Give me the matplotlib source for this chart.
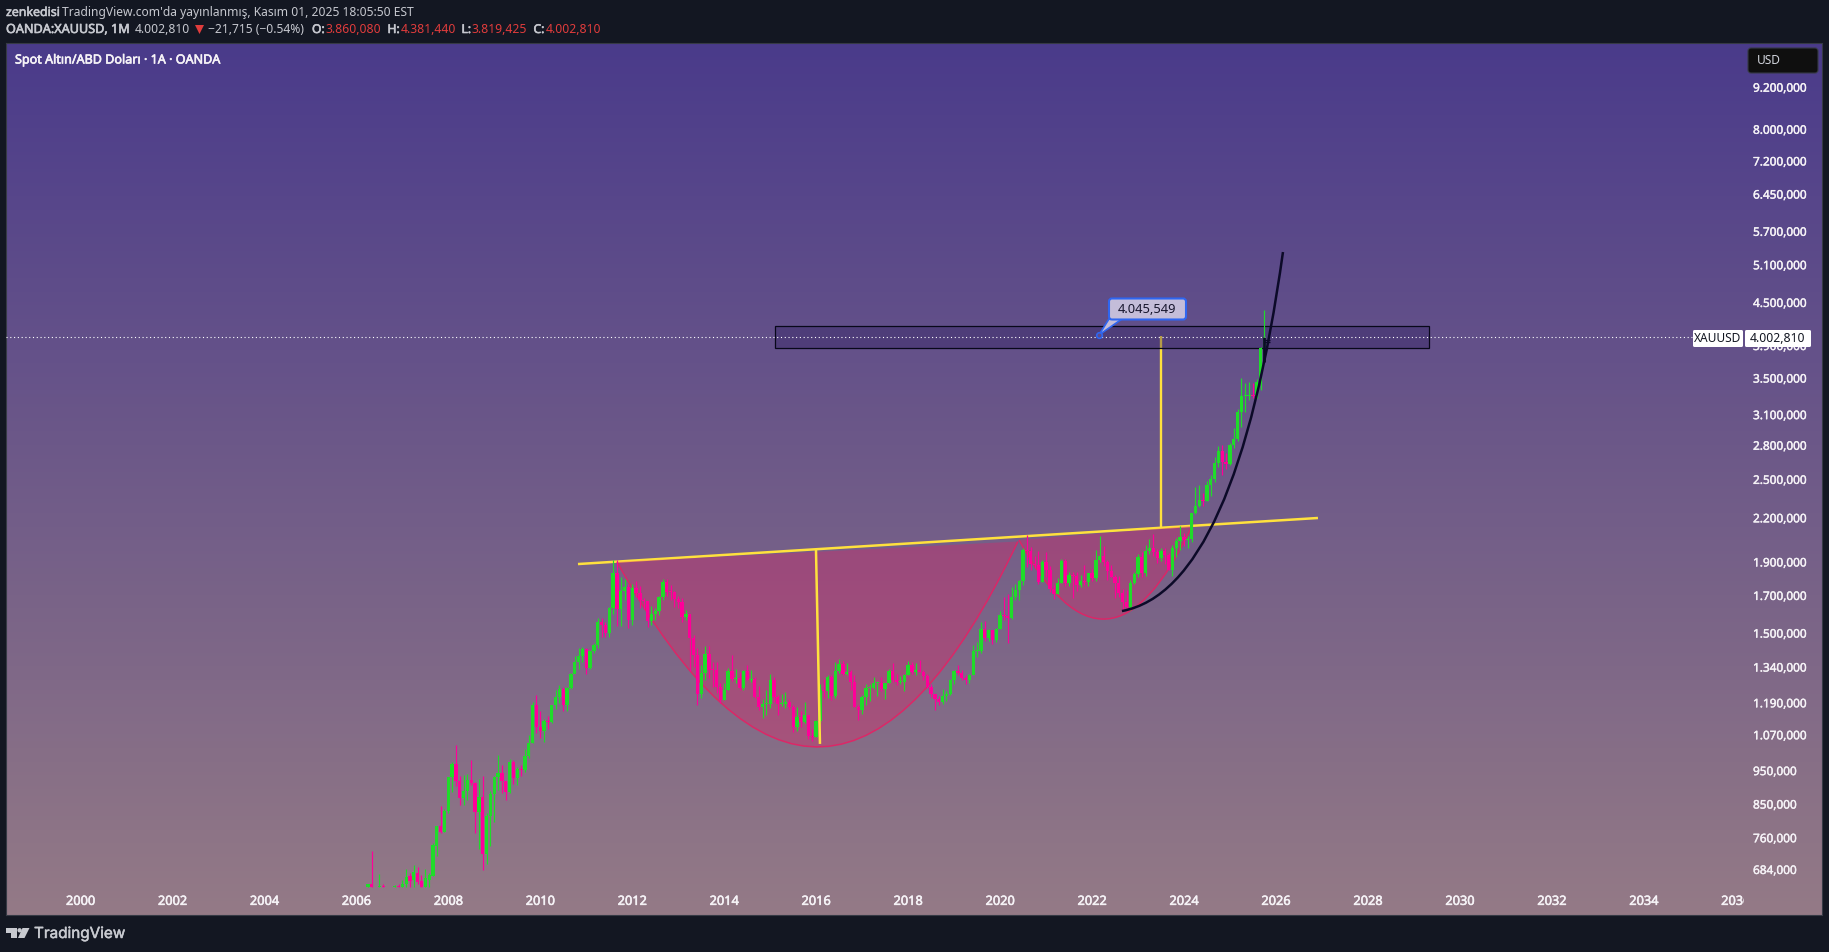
import numpy as np
import pandas as pd
import matplotlib
matplotlib.use('Agg')
import matplotlib.pyplot as plt
import matplotlib.patheffects as pe
from matplotlib.colors import LinearSegmentedColormap
from matplotlib.patches import FancyBboxPatch, PathPatch, Polygon, Rectangle, Circle
from matplotlib.path import Path
from matplotlib.transforms import IdentityTransform

W, H = 1829, 952
plt.rcParams['font.family'] = ['Noto Sans', 'DejaVu Sans']

# monthly candles from Apr 2006, anything under the visible floor sits at 644
opens = [644, 650, 644, 644, 644.5, 644, 644, 644, 646,
         644, 650, 669, 660, 676, 657, 644, 660, 669, 739, 790, 774,
         828, 927, 971, 917, 866, 886, 920, 910, 827, 868, 719, 816,
         877, 927, 942, 916, 883, 977, 926, 955, 950, 996, 1040, 1178,
         1097, 1081, 1118, 1115, 1179, 1212, 1245, 1181, 1248, 1307, 1359, 1386,
         1421, 1334, 1409, 1439, 1556, 1536, 1500, 1628, 1826, 1621, 1722, 1746,
         1565, 1737, 1711, 1669, 1664, 1560, 1598, 1610, 1691, 1776, 1719, 1714,
         1675, 1663, 1578, 1595, 1472, 1394, 1224, 1312, 1396, 1327, 1323, 1250,
         1201, 1240, 1321, 1284, 1291, 1246, 1322, 1282, 1287, 1210, 1171, 1182,
         1184, 1283, 1213, 1183, 1184, 1190, 1172, 1095, 1134, 1115, 1142, 1065,
         1061, 1118, 1238, 1234, 1293, 1215, 1322, 1351, 1309, 1315, 1272, 1173,
         1159, 1211, 1249, 1249, 1268, 1269, 1242, 1269, 1321, 1280, 1271, 1275,
         1303, 1345, 1318, 1325, 1315, 1298, 1253, 1224, 1202, 1192, 1215, 1222,
         1282, 1321, 1313, 1292, 1283, 1305, 1409, 1413, 1520, 1472, 1513, 1464,
         1517, 1589, 1585, 1577, 1686, 1730, 1780, 1975, 1968, 1886, 1879, 1777,
         1898, 1847, 1734, 1708, 1769, 1906, 1770, 1814, 1813, 1757, 1783, 1774,
         1829, 1797, 1909, 1937, 1897, 1838, 1807, 1766, 1711, 1661, 1633, 1769,
         1824, 1928, 1827, 1969, 1990, 1962, 1919, 1965, 1940, 1849, 1984, 2036,
         2063, 2039, 2044, 2230, 2286, 2327, 2326, 2447, 2503, 2635, 2744, 2643,
         2624, 2798, 2857, 3122, 3289, 3289, 3303, 3290, 3447, 3860]
highs = [650, 726, 644, 673, 650, 644, 644, 648, 650,
         660, 684, 675, 692, 688, 670, 684, 675, 745, 790, 842, 835,
         928, 975, 1031, 933, 936, 938, 982, 913, 921, 931, 825, 887,
         932, 1000, 965, 915, 985, 984, 960, 966, 1018, 1066, 1191, 1219,
         1155, 1125, 1137, 1181, 1240, 1260, 1250, 1253, 1312, 1388, 1424, 1431,
         1423, 1412, 1447, 1575, 1577, 1552, 1632, 1908, 1908, 1803, 1790, 1761,
         1764, 1780, 1750, 1681, 1668, 1640, 1628, 1694, 1790, 1795, 1755, 1725,
         1695, 1682, 1616, 1598, 1488, 1424, 1348, 1433, 1435, 1361, 1361, 1268,
         1268, 1332, 1392, 1331, 1315, 1326, 1345, 1324, 1293, 1255, 1205, 1238,
         1307, 1294, 1220, 1224, 1232, 1205, 1179, 1170, 1157, 1191, 1142, 1088,
         1123, 1263, 1287, 1303, 1303, 1362, 1375, 1367, 1357, 1326, 1305, 1181,
         1219, 1264, 1263, 1295, 1270, 1296, 1270, 1331, 1358, 1306, 1299, 1306,
         1366, 1362, 1356, 1369, 1326, 1309, 1266, 1224, 1214, 1243, 1237, 1284,
         1326, 1347, 1324, 1303, 1306, 1439, 1452, 1555, 1557, 1517, 1515, 1524,
         1611, 1689, 1704, 1748, 1765, 1789, 1984, 2075, 1992, 1933, 1966, 1907,
         1959, 1872, 1755, 1798, 1913, 1917, 1834, 1832, 1834, 1814, 1877, 1831,
         1853, 1974, 2070, 1998, 1910, 1879, 1814, 1808, 1735, 1730, 1787, 1833,
         1949, 1960, 2010, 2049, 2079, 1983, 1987, 1987, 1953, 2009, 2052, 2135,
         2088, 2065, 2234, 2431, 2450, 2387, 2483, 2531, 2685, 2790, 2801, 2726,
         2817, 2956, 3149, 3500, 3435, 3451, 3439, 3489, 3872, 4381]
lows = [644, 644, 644, 644, 644, 644, 644, 644, 644,
        644, 644, 644, 644, 650, 644, 644, 644, 668, 714, 770, 774,
        825, 883, 901, 846, 845, 860, 903, 771, 732, 681, 696, 739,
        799, 890, 880, 860, 880, 908, 904, 931, 943, 990, 1040, 1075,
        1058, 1044, 1088, 1111, 1165, 1186, 1157, 1157, 1243, 1315, 1328, 1360,
        1308, 1329, 1400, 1425, 1479, 1478, 1478, 1594, 1534, 1532, 1670, 1523,
        1536, 1691, 1627, 1620, 1527, 1540, 1564, 1590, 1670, 1692, 1670, 1635,
        1626, 1555, 1562, 1321, 1338, 1180, 1207, 1283, 1292, 1251, 1227, 1187,
        1200, 1238, 1277, 1268, 1240, 1240, 1280, 1275, 1208, 1161, 1131, 1142,
        1167, 1191, 1142, 1175, 1169, 1162, 1077, 1080, 1097, 1112, 1052, 1046,
        1062, 1111, 1208, 1208, 1199, 1207, 1311, 1302, 1304, 1241, 1171, 1122,
        1146, 1180, 1195, 1243, 1214, 1237, 1205, 1267, 1271, 1260, 1265, 1236,
        1302, 1307, 1303, 1315, 1281, 1246, 1211, 1160, 1180, 1182, 1196, 1221,
        1266, 1302, 1281, 1266, 1268, 1306, 1382, 1400, 1459, 1459, 1445, 1454,
        1517, 1564, 1451, 1568, 1670, 1670, 1757, 1863, 1849, 1860, 1764, 1776,
        1802, 1717, 1677, 1706, 1766, 1751, 1750, 1684, 1721, 1746, 1759, 1753,
        1780, 1781, 1895, 1872, 1787, 1805, 1681, 1688, 1615, 1617, 1616, 1765,
        1804, 1804, 1810, 1950, 1932, 1893, 1903, 1884, 1848, 1810, 1931, 1973,
        2002, 1984, 2029, 2228, 2277, 2286, 2319, 2364, 2471, 2603, 2536, 2583,
        2614, 2772, 2833, 2970, 3120, 3247, 3268, 3268, 3360, 3819]
closes = [650, 644, 644, 644, 644, 644, 644, 646, 645,
          651, 665, 657, 677, 656, 644, 663, 671, 741, 790, 774, 828,
          927, 971, 917, 866, 886, 920, 910, 827, 868, 719, 816, 877,
          927, 942, 916, 883, 975, 926, 954, 950, 996, 1040, 1178, 1097,
          1081, 1118, 1115, 1179, 1212, 1245, 1181, 1248, 1307, 1359, 1386, 1421,
          1334, 1409, 1439, 1556, 1536, 1500, 1628, 1826, 1621, 1722, 1746, 1565,
          1737, 1711, 1669, 1664, 1560, 1598, 1610, 1691, 1776, 1719, 1714, 1675,
          1663, 1578, 1595, 1472, 1394, 1224, 1312, 1396, 1327, 1323, 1250, 1201,
          1240, 1321, 1284, 1291, 1246, 1322, 1282, 1287, 1210, 1171, 1182, 1184,
          1283, 1213, 1183, 1184, 1190, 1172, 1095, 1134, 1115, 1142, 1065, 1061,
          1118, 1238, 1234, 1293, 1215, 1322, 1351, 1309, 1315, 1272, 1173, 1159,
          1211, 1249, 1249, 1268, 1269, 1242, 1269, 1321, 1280, 1271, 1275, 1303,
          1345, 1318, 1325, 1315, 1298, 1253, 1224, 1202, 1192, 1215, 1222, 1282,
          1321, 1313, 1292, 1283, 1305, 1409, 1413, 1520, 1472, 1513, 1464, 1517,
          1589, 1585, 1577, 1686, 1730, 1780, 1975, 1968, 1886, 1879, 1777, 1898,
          1847, 1734, 1708, 1769, 1906, 1770, 1814, 1813, 1757, 1783, 1774, 1829,
          1797, 1909, 1937, 1897, 1838, 1807, 1766, 1711, 1661, 1633, 1769, 1824,
          1928, 1827, 1969, 1990, 1962, 1919, 1965, 1940, 1849, 1984, 2036, 2063,
          2039, 2044, 2230, 2286, 2327, 2326, 2447, 2503, 2635, 2744, 2643, 2624,
          2798, 2857, 3122, 3289, 3289, 3303, 3290, 3447, 3858, 4003]

price_ticks = [9200, 8000, 7200, 6450, 5700, 5100, 4500, 3900, 3500, 3100, 2800, 2500,
               2200, 1900, 1700, 1500, 1340, 1190, 1070, 950, 850, 760, 684]
year_ticks = list(range(2000, 2037, 2))

# drawing tool anchors, (year, price)
neckline = [(2010.82, 1883.8), (2026.914, 2195.3)]
cup_arc = [(2011.668, 1896.8), (2016.257, 536.8), (2020.389, 2030.3)]
handle_arc = [(2020.411, 2040.8), (2022.358, 1179.3), (2024.174, 2137.7)]
cup_depth = [(2015.996, 1980.3), (2016.083, 1036.3)]
target_line = [(2023.5, 4018.8), (2023.5, 2130.6)]
zone_years = (2015.096, 2029.328)
zone_prices = (3865.6, 4150)
trend_arc = [(2022.651, 1611.5), (2025.13, 1728), (2026.153, 5312)]
last_marks = [(2025.74, 3999), (2025.74, 3686)]
callout_tip = (2022.15, 4032)
callout_foot = [(2022.368, 4252), (2022.651, 4252)]
last_price = 4002.81

BG = '#131722'
GREEN = '#1fdc2a'
PINK = '#ff0099'
YELLOW = '#ffe13d'
ARC = '#e91e63'
DARK = '#0c0a28'
LABEL = '#f6f3f7'


def tr_price(v):
    return f'{v:,.3f}'.replace(',', 'x').replace('.', ',').replace('x', '.')


def heavier(text, color, amount=0.35):
    # Noto Sans only comes in one weight here, a thin stroke stands in for semibold
    text.set_path_effects([pe.withStroke(linewidth=amount, foreground=color)])


def arc_path(p):
    return Path(p + [p[0]], [Path.MOVETO, Path.CURVE3, Path.CURVE3, Path.CLOSEPOLY])


def px_box(x0, y0, x1, y1, fc, ec='none', lw=0, r=0, z=20):
    fig.add_artist(FancyBboxPatch((x0, H - y1), x1 - x0, y1 - y0,
                                  boxstyle=f'round,pad=0,rounding_size={r}',
                                  fc=fc, ec=ec, lw=lw, zorder=z,
                                  transform=IdentityTransform()))


def px_text(x, y, s, color, size=8.6, ha='left', family=None, bold=0, z=21):
    kw = {'family': family} if family else {}
    t = fig.text(x / W, 1 - y / H, s, color=color, fontsize=size,
                 ha=ha, va='center', zorder=z, **kw)
    if bold:
        heavier(t, color, bold)
    return t


fig = plt.figure(figsize=(W / 100, H / 100), dpi=100, facecolor=BG)

# gradient fills the pane and the price scale
bg = fig.add_axes([6 / W, 1 - 915 / H, (1822 - 6) / W, (915 - 43) / H], zorder=-1)
cmap = LinearSegmentedColormap.from_list('pane', ['#4a3b8b', '#947a86'])
bg.imshow(np.linspace(0, 1, 256).reshape(-1, 1), aspect='auto', cmap=cmap)
bg.set_xticks([])
bg.set_yticks([])
for s in bg.spines.values():
    s.set_color('#363a45')
    s.set_linewidth(0.8)

ax = fig.add_axes([6 / W, 1 - 915 / H, (1744 - 6) / W, (915 - 43) / H])
ax.patch.set_alpha(0)
ax.set_yscale('log')
ax.set_xlim(1998.38, 2036.18)
ax.set_ylim(587, 10638)
for s in ax.spines.values():
    s.set_visible(False)

ax.yaxis.tick_right()
ax.set_yticks(price_ticks)
ax.set_yticklabels([tr_price(v) for v in price_ticks])
ax.minorticks_off()
ax.tick_params(axis='y', length=0, pad=6.5, labelsize=8.5, labelcolor=LABEL)
ax.set_xticks(year_ticks)
ax.set_xticklabels([str(y) for y in year_ticks])
ax.tick_params(axis='x', length=0, pad=-14.5, labelsize=9.2, labelcolor=LABEL)
for lab in ax.get_xticklabels():
    lab.set_clip_box(ax.bbox)
    lab.set_clip_on(True)
    heavier(lab, LABEL, 0.4)
for lab in ax.get_yticklabels():
    heavier(lab, LABEL, 0.3)

# drawings under the candles
ax.plot(*zip(*neckline), color=YELLOW, lw=1.8, zorder=2, solid_capstyle='butt')
for arc in (cup_arc, handle_arc):
    ax.add_patch(PathPatch(arc_path(arc), fc=(0.914, 0.118, 0.388, 0.33), ec='none', zorder=3))
    ax.add_patch(PathPatch(Path(arc, [Path.MOVETO, Path.CURVE3, Path.CURVE3]),
                           fc='none', ec=ARC, alpha=0.85, lw=1.1, zorder=3))
ax.plot(*zip(*target_line), color=YELLOW, lw=1.7, zorder=3.5, solid_capstyle='butt')
ax.add_patch(Rectangle((zone_years[0], zone_prices[0]), zone_years[1] - zone_years[0],
                       zone_prices[1] - zone_prices[0], fc=(0.17, 0.11, 0.36, 0.35),
                       ec='#08081a', lw=0.9, zorder=3.8))

# candles
dates = pd.date_range('2006-04-01', periods=len(closes), freq='MS')
xs = dates.year + (dates.month - 1) / 12
for x, o, h, l, c in zip(xs, opens, highs, lows, closes):
    if h == l:
        continue
    col = GREEN if c >= o else PINK
    ax.vlines(x, l, h, color=col, lw=0.85, zorder=4)
    low = min(o, c)
    ax.bar(x, max(abs(c - o), low * 0.0033), bottom=low, width=0.072,
           color=col, lw=0, zorder=4.1)

# drawings on top
ax.plot(*zip(*cup_depth), color=YELLOW, lw=1.8, zorder=5, solid_capstyle='butt')
ax.plot(ax.get_xlim(), [last_price, last_price], color='white', lw=0.8, ls=(0, (1, 2.4)), zorder=5.5)
ax.add_patch(PathPatch(Path(trend_arc, [Path.MOVETO, Path.CURVE3, Path.CURVE3]),
                       fc='none', ec=DARK, lw=1.8, zorder=6))
ax.plot(*zip(*last_marks), color=DARK, lw=2, zorder=6, solid_capstyle='butt')
ax.hlines([3960, 3935], last_marks[0][0], last_marks[0][0] + 0.13, color=DARK, lw=0.9, zorder=6)

# callout
ax.add_patch(Polygon([callout_tip] + callout_foot, fc='#c4bdd9', ec='#2f66f0', lw=1.2, zorder=7))
ax.plot(*callout_tip, 'o', ms=4, mfc='#5d4c8c', mec='#2f66f0', mew=1.2, zorder=7.5)
px_box(1109, 298.5, 1186, 319.5, '#c4bdd9', '#2f66f0', 1.5, 3)
px_text(1147.5, 309.5, '4.045,549', '#17162e', size=9.3, ha='center')

# price tags
px_box(1693, 330, 1743, 347, 'white', r=1.5)
px_box(1745, 330, 1811, 347, 'white', r=1.5)
px_text(1718, 338.5, 'XAUUSD', '#131722', size=8.6, ha='center')
px_text(1778, 338.5, tr_price(last_price), '#131722', size=8.8, ha='center')
px_box(1748, 48, 1818, 73, '#0f0f0f', '#363a45', 0.8, 3)
px_text(1757, 61, 'USD', '#d1d4dc', size=8.6)

# header
GREY = '#c6c8cf'
RED = '#e03c3c'
px_text(6, 12.5, 'zenkedisi', GREY, size=8.9, bold=0.4)
px_text(62.5, 12.5, "TradingView.com'da yayınlanmış, Kasım 01, 2025 18:05:50 EST", GREY, size=8.7)
px_text(6, 29.5, 'OANDA:XAUUSD, 1M', GREY, size=9.1, bold=0.45)
px_text(135, 29.5, tr_price(last_price), GREY, size=8.7)
fig.add_artist(Polygon([(195, H - 25), (204, H - 25), (199.5, H - 34)], fc=RED, ec='none',
                       transform=IdentityTransform(), zorder=21))
px_text(208, 29.5, '−21,715 (−0.54%)', GREY, size=8.7)
for lab_x, val_x, lab, val in [(312, 326, 'O:', '3.860,080'), (387.5, 400.5, 'H:', '4.381,440'),
                               (461.5, 472, 'L:', '3.819,425'), (533.5, 545.5, 'C:', '4.002,810')]:
    px_text(lab_x, 29.5, lab, GREY, size=8.7, bold=0.45)
    px_text(val_x, 29.5, val, RED, size=8.8)
px_text(15, 60, 'Spot Altın/ABD Doları · 1A · OANDA', LABEL, size=9.05, bold=0.45)

# logo
LOGO = '#c8cad0'
for pts in ([(6, 928), (16.5, 928), (16.5, 938), (11, 938), (11, 932.5), (6, 932.5)],
            [(22.5, 928), (29.5, 928), (24.5, 938), (18, 938)]):
    fig.add_artist(Polygon([(x, H - y) for x, y in pts], fc=LOGO, ec='none',
                           transform=IdentityTransform(), zorder=21))
fig.add_artist(Circle((19.6, H - 930.3), 2.2, fc=LOGO, ec='none',
                      transform=IdentityTransform(), zorder=21))
px_text(34, 933.5, 'TradingView', LOGO, size=11, family='Inter', bold=0.35)

fig.savefig('out.png', dpi=100, facecolor=BG)
